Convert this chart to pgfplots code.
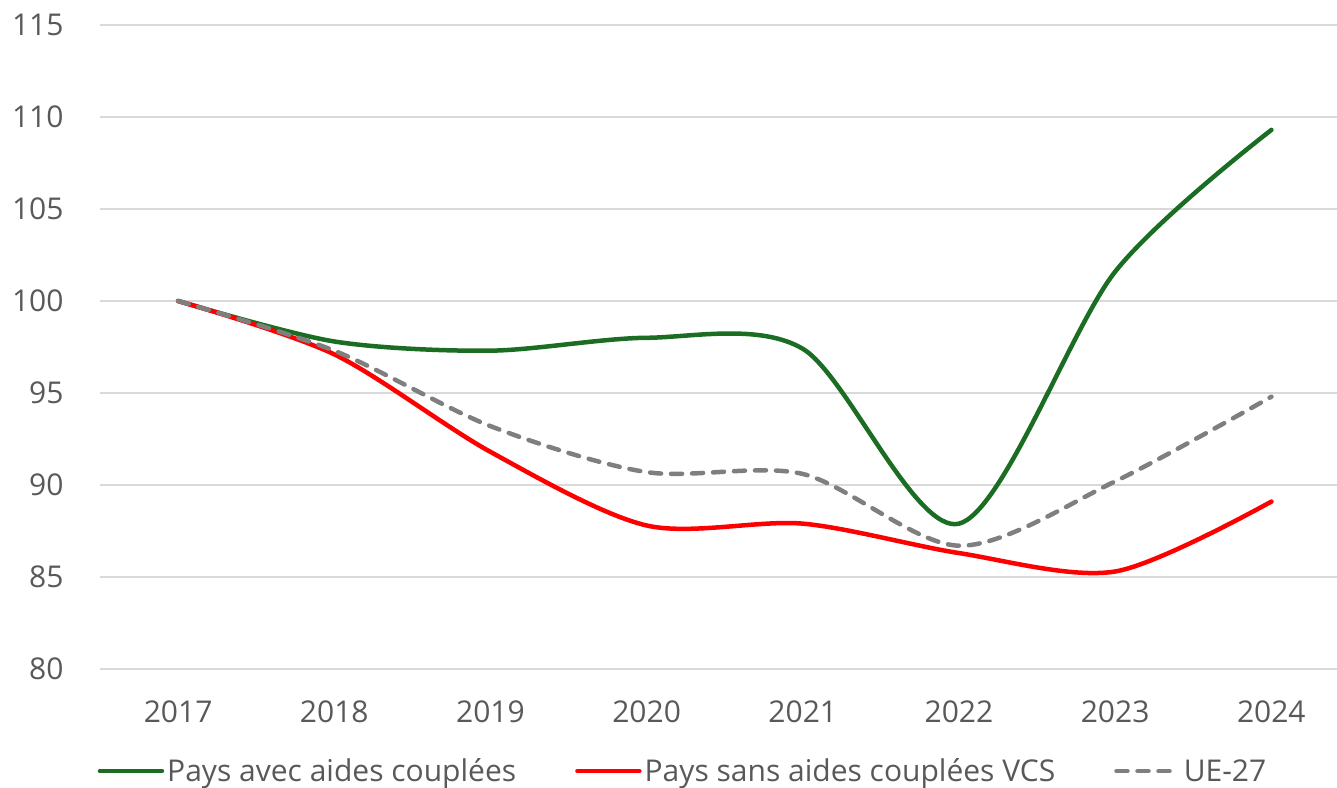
\documentclass[border=0pt]{standalone}
\usepackage{pgfplots}
\pgfplotsset{compat=1.18}
\usepackage{fontspec}
\setmainfont{Open Sans}
\definecolor{cgreen}{HTML}{1B6D23}
\definecolor{cred}{HTML}{FF0000}
\definecolor{cgrey}{HTML}{7F7F7F}
\definecolor{cgrid}{HTML}{D9D9D9}
\definecolor{ctext}{HTML}{595959}
\begin{document}
\begin{tikzpicture}[x=1pt,y=1pt]
\begin{axis}[
  width=1237pt, height=644pt, scale only axis,
  at={(0pt,0pt)}, anchor=south west,
  xmin=2016.5, xmax=2024.42,
  ymin=80, ymax=115,
  ytick={80,85,...,115},
  xtick={2017,...,2024},
  axis line style={draw=none},
  tick style={draw=none},
  ymajorgrids, grid style={cgrid, line width=1.3pt},
  /pgf/number format/assume math mode=true,
  /pgf/number format/1000 sep={},
  tick label style={font=\fontsize{30}{34}\selectfont, text=ctext},
  yticklabel style={xshift=-33pt},
  xticklabel style={yshift=-28pt},
  legend style={at={(-0.002,-0.136)}, anchor=north west, draw=none, fill=none,
    inner xsep=0pt, inner ysep=0pt,
    legend columns=3, font=\fontsize{30}{34}\selectfont, text=ctext,
    nodes={inner xsep=3pt},
    /tikz/every even column/.append style={column sep=56pt}},
  legend image code/.code={\draw[#1] (0pt,0pt) -- (62pt,0pt);},
  clip=false,
]
\addplot[cgreen, line width=4.5pt, smooth, line cap=round] coordinates {
 (2017,100) (2018,97.8) (2019,97.3) (2020,98.0) (2021,97.4) (2022,87.9) (2023,101.6) (2024,109.3)};
\addlegendentry{Pays avec aides couplées}
\addplot[cred, line width=4.5pt, smooth, line cap=round] coordinates {
 (2017,100) (2018,97.1) (2019,91.8) (2020,87.8) (2021,87.9) (2022,86.3) (2023,85.3) (2024,89.1)};
\addlegendentry{Pays sans aides couplées VCS}
\addplot[cgrey, line width=4.5pt, smooth, line cap=round, dash pattern=on 11pt off 10pt] coordinates {
 (2017,100) (2018,97.3) (2019,93.2) (2020,90.7) (2021,90.6) (2022,86.7) (2023,90.2) (2024,94.8)};
\addlegendentry{UE-27}
\end{axis}
\pgfresetboundingbox
\path[use as bounding box] (-100pt,-118pt) rectangle (1237pt,669pt);
\end{tikzpicture}
\end{document}
